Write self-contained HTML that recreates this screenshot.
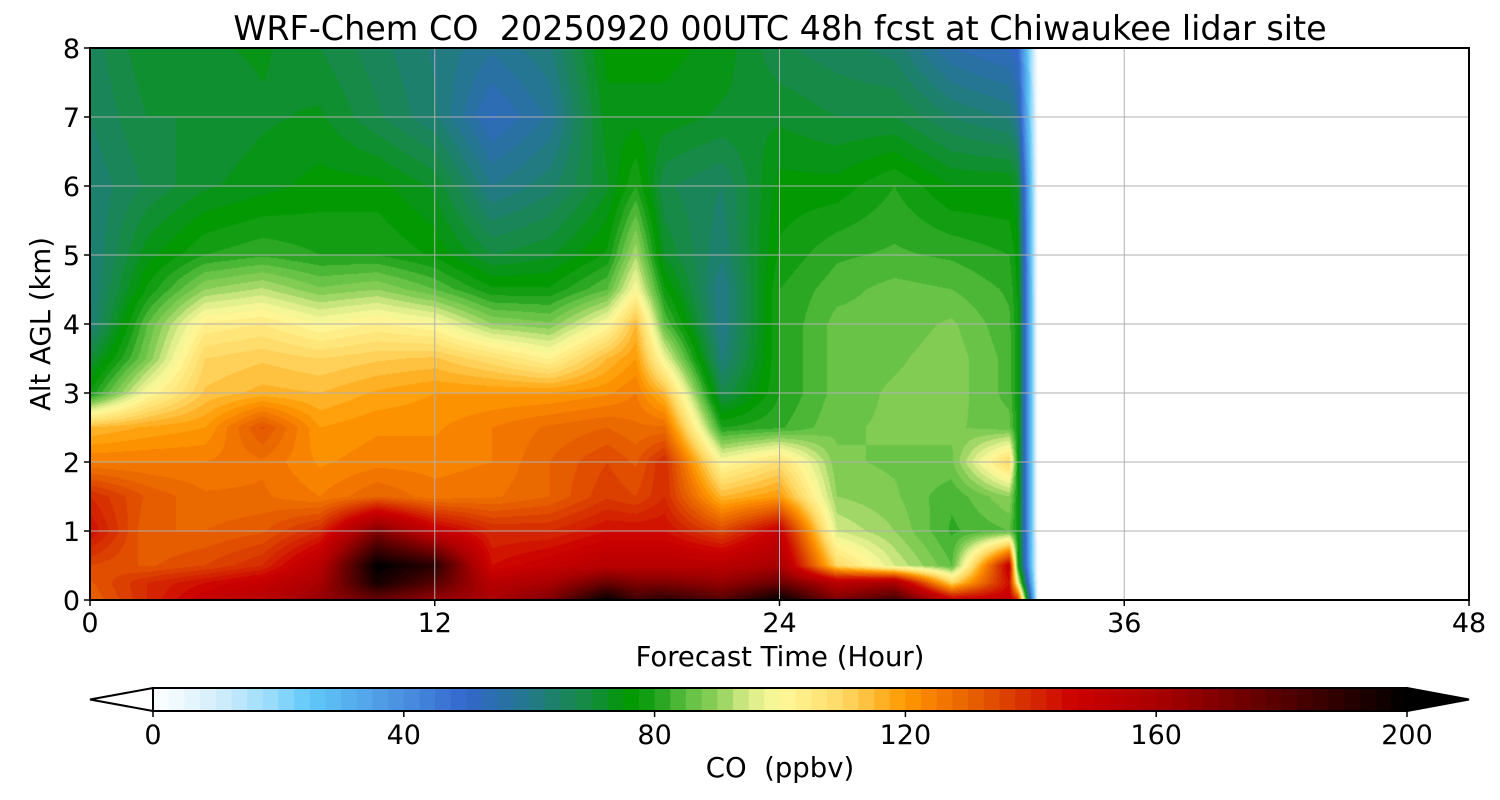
<!DOCTYPE html>
<html><head><meta charset="utf-8"><style>
body{margin:0;background:#fff;width:1500px;height:800px;overflow:hidden;font-family:"DejaVu Sans",sans-serif}
svg text{font-family:"DejaVu Sans",sans-serif;fill:#000;white-space:pre}
#cv{position:absolute;left:90px;top:48px}
</style></head><body>
<canvas id="cv" width="1379" height="552"></canvas>
<svg id="sv" width="1500" height="800" style="position:absolute;left:0;top:0"></svg>
<script>
const hours=[0,2,4,6,8,10,12,14,16,18,19,20,22,24,26,28,30,32,32.3,33];
const alts=[0,0.25,0.5,1,1.5,2,2.5,3,3.5,4,4.5,5,6,7,8];
const co_h0=[130,132,135,145,140,125,115,78,70,62,62,62,63,65,66];
const co_h2=[140,140,132,130,132,125,118,100,88,85,78,74,68,70,72];
const co_h4=[150,145,135,130,128,125,120,113,110,103,90,80,72,70,72];
const co_h6=[155,150,140,132,128,127,133,116,112,105,93,82,74,72,73];
const co_h8=[165,160,155,140,125,122,120,115,110,100,88,80,76,73,70];
const co_h10=[175,195,200,170,130,124,122,118,112,103,90,80,76,68,66];
const co_h12=[165,180,190,150,126,124,122,120,113,100,85,77,72,63,62];
const co_h14=[160,155,145,140,127,125,125,120,108,90,78,70,60,52,58];
const co_h16=[170,160,150,140,130,130,128,120,102,88,78,72,64,58,62];
const co_h18=[200,175,155,145,137,135,130,122,115,100,85,78,72,74,76];
const co_h19=[185,170,155,145,135,132,128,125,120,115,100,92,80,74,76];
const co_h20=[190,170,155,145,140,140,128,115,98,85,78,72,68,74,76];
const co_h22=[180,165,155,135,115,100,80,68,62,60,60,63,65,72,74];
const co_h24=[200,175,160,150,120,108,82,80,80,80,80,78,76,72,68];
const co_h26=[170,155,110,95,90,88,87,86,86,86,84,82,76,70,66];
const co_h28=[185,160,95,90,88,87,88,88,87,86,86,83,80,70,64];
const co_h30=[150,110,85,82,83,87,88,89,89,88,85,82,75,65,55];
const co_h32=[150,145,150,85,90,110,86,84,84,83,82,80,75,62,52];
const co_h32b=[140,100,80,78,78,78,78,78,78,78,77,76,72,58,50];
const co_h33=[0,0,0,0,0,0,0,0,0,0,0,0,0,0,0];
const field=[co_h0,co_h2,co_h4,co_h6,co_h8,co_h10,co_h12,co_h14,co_h16,co_h18,co_h19,co_h20,co_h22,co_h24,co_h26,co_h28,co_h30,co_h32,co_h32b,co_h33];
const xTicks=[0,12,24,36,48];
const yTicks=[0,1,2,3,4,5,6,7,8];
const cbTicks=[0,40,80,120,160,200];

const stops=[[0,[255,255,255]],[10,[213,239,252]],[20,[143,216,251]],[25,[96,200,248]],[40,[74,143,224]],[50,[51,102,204]],[60,[35,120,138]],[70,[20,140,60]],[76,[0,153,0]],[80,[26,159,26]],[85,[92,191,64]],[90,[143,208,90]],[95,[216,236,136]],[100,[255,249,154]],[110,[255,217,102]],[120,[255,153,0]],[125,[245,123,0]],[130,[232,100,0]],[140,[212,42,0]],[147,[204,0,0]],[160,[170,0,0]],[170,[128,0,0]],[185,[64,0,0]],[200,[0,0,0]]];
function col(v){
  v=Math.max(0,Math.min(199.9,Math.floor(v/2.5)*2.5+1.25));
  for(let i=0;i<stops.length-1;i++){const a=stops[i],b=stops[i+1];
    if(v<=b[0]){const t=(v-a[0])/(b[0]-a[0]);return a[1].map((c,k)=>Math.round(c+(b[1][k]-c)*t));}}
  return [0,0,0];
}
const X0=90,X1=1469,Y0=600,Y1=48;
const xs=h=>X0+(h/48)*(X1-X0), ys=a=>Y0-(a/8)*(Y0-Y1);
function seg(arr,v){let i=0;while(i<arr.length-2&&v>arr[i+1])i++;const t=(v-arr[i])/(arr[i+1]-arr[i]);return [i,Math.max(0,Math.min(1,t))];}
const cv=document.getElementById('cv'),ctx=cv.getContext('2d');
const W=cv.width,H=cv.height,img=ctx.createImageData(W,H);
const hMax=hours[hours.length-1];
for(let px=0;px<W;px++){
  const h=(px+0.5)/W*48;
  if(h>hMax){for(let py=0;py<H;py++){const o=(py*W+px)*4;img.data[o]=img.data[o+1]=img.data[o+2]=img.data[o+3]=255;}continue;}
  const [i,tx]=seg(hours,h);
  for(let py=0;py<H;py++){
    const a=(H-py-0.5)/H*8;const [j,ty]=seg(alts,a);
    const v=(field[i][j]*(1-tx)+field[i+1][j]*tx)*(1-ty)+(field[i][j+1]*(1-tx)+field[i+1][j+1]*tx)*ty;
    const c=col(v),o=(py*W+px)*4;img.data[o]=c[0];img.data[o+1]=c[1];img.data[o+2]=c[2];img.data[o+3]=255;
  }
}
ctx.putImageData(img,0,0);

const sv=document.getElementById('sv'),NS='http://www.w3.org/2000/svg';
function mk(t,at,txt){const e=document.createElementNS(NS,t);for(const k in at)e.setAttribute(k,at[k]);if(txt!=null)e.textContent=txt;sv.appendChild(e);return e;}
for(const h of xTicks){const e=mk('line',{x1:xs(h),x2:xs(h),y1:Y1,y2:Y0,stroke:'#b0b0b0','stroke-width':1});

}
for(const a of yTicks){const e=mk('line',{x1:X0,x2:X1,y1:ys(a),y2:ys(a),stroke:'#b0b0b0','stroke-width':1});

}
let fr=mk('rect',{x:X0,y:Y1,width:X1-X0,height:Y0-Y1,fill:'none',stroke:'#000','stroke-width':2});


for(const h of xTicks){mk('line',{x1:xs(h),x2:xs(h),y1:Y0,y2:Y0+6,stroke:'#000','stroke-width':1.5});
const t=mk('text',{x:xs(h),y:Y0+32,'font-size':27,'text-anchor':'middle'},h);

}
for(const a of yTicks){mk('line',{x1:X0-6,x2:X0,y1:ys(a),y2:ys(a),stroke:'#000','stroke-width':1.5});
const t=mk('text',{x:X0-10,y:ys(a)+10,'font-size':27,'text-anchor':'end'},a);

}
let tt=mk('text',{x:780,y:40,'font-size':33.4,'text-anchor':'middle'},'WRF-Chem CO  20250920 00UTC 48h fcst at Chiwaukee lidar site');


let xl=mk('text',{x:780,y:666,'font-size':27.5,'text-anchor':'middle'},'Forecast Time (Hour)');


let yl=mk('text',{x:0,y:0,'font-size':27.5,'text-anchor':'middle',transform:'translate(50,324) rotate(-90)'},'Alt AGL (km)');


const C0=153,C1=1407,CT=688,CB=711,cx=v=>C0+(v/200)*(C1-C0);
for(let v=0;v<200;v+=2.5){const r=mk('rect',{x:cx(v),y:CT,width:(C1-C0)/80+0.6,height:CB-CT,fill:'rgb('+col(v+1.25).join(',')+')'});

}
let lt=mk('polygon',{points:`${C0},${CT} 90,${(CT+CB)/2} ${C0},${CB}`,fill:'#fff',stroke:'#000','stroke-width':2});


let rt=mk('polygon',{points:`${C1},${CT} 1469,${(CT+CB)/2} ${C1},${CB}`,fill:'#000',stroke:'#000','stroke-width':2});


let cf=mk('rect',{x:C0,y:CT,width:C1-C0,height:CB-CT,fill:'none',stroke:'#000','stroke-width':2});


for(const v of cbTicks){mk('line',{x1:cx(v),x2:cx(v),y1:CB,y2:CB+6,stroke:'#000','stroke-width':1.5});
const t=mk('text',{x:cx(v),y:744,'font-size':27,'text-anchor':'middle'},v);

}
let cl=mk('text',{x:780,y:777,'font-size':27.5,'text-anchor':'middle'},'CO  (ppbv)');


</script></body></html>
